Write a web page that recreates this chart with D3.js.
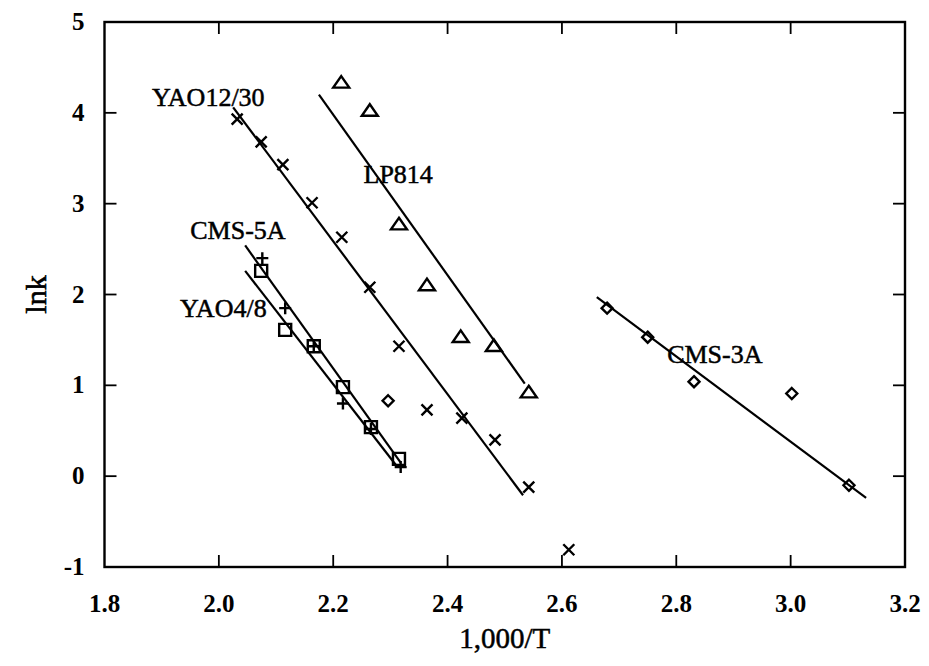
<!DOCTYPE html>
<html>
<head>
<meta charset="utf-8">
<script src="https://cdn.jsdelivr.net/npm/d3@7"></script>
<style>
  html, body { margin: 0; padding: 0; background: #fff; }
  svg text { font-family: "Liberation Serif", "DejaVu Serif", serif; fill: #000; }
</style>
</head>
<body>
<div id="chart"></div>
<script>
// Arrhenius plot: ln k vs 1,000/T

// YAO12/30 (x markers)
const yao1230X = [2.032, 2.074, 2.112, 2.163, 2.215, 2.264, 2.315, 2.364, 2.425, 2.483, 2.542, 2.612];
const yao1230Y = [3.93, 3.68, 3.43, 3.01, 2.63, 2.08, 1.43, 0.73, 0.64, 0.40, -0.12, -0.81];
const yao1230Fit = [[2.025, 4.06], [2.532, -0.21]];

// LP814 (triangles)
const lp814X = [2.214, 2.264, 2.315, 2.364, 2.423, 2.481, 2.542];
const lp814Y = [4.33, 4.02, 2.77, 2.10, 1.53, 1.43, 0.92];
const lp814Fit = [[2.175, 4.20], [2.535, 1.02]];

// CMS-5A (squares)
const cms5aX = [2.074, 2.116, 2.166, 2.217, 2.266, 2.315];
const cms5aY = [2.26, 1.61, 1.43, 0.98, 0.54, 0.19];
const cms5aFit = [[2.046, 2.54], [2.318, 0.15]];

// YAO4/8 (plus markers)
const yao48X = [2.076, 2.116, 2.166, 2.217, 2.266, 2.318];
const yao48Y = [2.40, 1.85, 1.43, 0.80, 0.52, 0.10];
const yao48Fit = [[2.046, 2.26], [2.310, 0.12]];

// CMS-3A (diamonds), plus one stray diamond near 2.3
const cms3aX = [2.296, 2.679, 2.750, 2.831, 3.002, 3.102];
const cms3aY = [0.83, 1.85, 1.53, 1.04, 0.91, -0.10];
const cms3aFit = [[2.661, 1.97], [3.132, -0.24]];

// curve labels: [text, x, y (baseline)]
const curveLabels = [
  ['YAO12/30', 1.883, 4.08],
  ['LP814', 2.253, 3.23],
  ['CMS-5A', 1.950, 2.61],
  ['YAO4/8', 1.932, 1.75],
  ['CMS-3A', 2.784, 1.25]
];

const xTicks = [1.8, 2.0, 2.2, 2.4, 2.6, 2.8, 3.0, 3.2];
const yTicks = [-1, 0, 1, 2, 3, 4, 5];

const width = 929;
const height = 666;
const margin = { top: 22, right: 24, bottom: 99, left: 104.5 };

const svg = d3.select('#chart')
  .append('svg')
  .attr('width', width)
  .attr('height', height);

const x = d3.scaleLinear().domain([1.8, 3.2]).range([margin.left, width - margin.right]);
const y = d3.scaleLinear().domain([-1, 5]).range([height - margin.bottom, margin.top]);

// frame
svg.append('rect')
  .attr('x', x(1.8)).attr('y', y(5))
  .attr('width', x(3.2) - x(1.8)).attr('height', y(-1) - y(5))
  .attr('fill', 'none')
  .attr('stroke', '#000')
  .attr('stroke-width', 2.4);

// inward ticks on all four sides
const tickLen = 12;
const ticks = svg.append('g').attr('stroke', '#000').attr('stroke-width', 1.8);
xTicks.slice(1, -1).forEach(t => {
  ticks.append('line').attr('x1', x(t)).attr('x2', x(t)).attr('y1', y(-1)).attr('y2', y(-1) - tickLen);
  ticks.append('line').attr('x1', x(t)).attr('x2', x(t)).attr('y1', y(5)).attr('y2', y(5) + tickLen);
});
yTicks.slice(1, -1).forEach(t => {
  ticks.append('line').attr('x1', x(1.8)).attr('x2', x(1.8) + tickLen).attr('y1', y(t)).attr('y2', y(t));
  ticks.append('line').attr('x1', x(3.2)).attr('x2', x(3.2) - tickLen).attr('y1', y(t)).attr('y2', y(t));
});

// tick labels
svg.append('g').selectAll('text')
  .data(xTicks)
  .enter().append('text')
  .attr('x', d => x(d))
  .attr('y', y(-1) + 45)
  .attr('text-anchor', 'middle')
  .attr('font-size', 25)
  .attr('font-weight', 'bold')
  .text(d => d.toFixed(1));

svg.append('g').selectAll('text')
  .data(yTicks)
  .enter().append('text')
  .attr('x', x(1.8) - 20)
  .attr('y', d => y(d) + 8)
  .attr('text-anchor', 'end')
  .attr('font-size', 25)
  .attr('font-weight', 'bold')
  .text(d => d);

// axis titles
svg.append('text')
  .attr('x', (x(1.8) + x(3.2)) / 2)
  .attr('y', 648)
  .attr('text-anchor', 'middle')
  .attr('font-size', 29)
  .attr('stroke', '#000')
  .attr('stroke-width', 0.5)
  .text('1,000/T');

svg.append('text')
  .attr('transform', `translate(46, ${y(2)}) rotate(-90)`)
  .attr('text-anchor', 'middle')
  .attr('font-size', 30)
  .attr('stroke', '#000')
  .attr('stroke-width', 0.6)
  .text('lnk');

// fit lines
const fits = [yao1230Fit, lp814Fit, cms5aFit, yao48Fit, cms3aFit];
svg.append('g').selectAll('line')
  .data(fits)
  .enter().append('line')
  .attr('x1', d => x(d[0][0])).attr('y1', d => y(d[0][1]))
  .attr('x2', d => x(d[1][0])).attr('y2', d => y(d[1][1]))
  .attr('stroke', '#000')
  .attr('stroke-width', 2.2);

// marker shapes
const shapes = {
  times: s => `M${-s},${-s}L${s},${s}M${-s},${s}L${s},${-s}`,
  plus: s => `M${-s},0L${s},0M0,${-s}L0,${s}`,
  square: s => `M${-s},${-s}H${s}V${s}H${-s}Z`,
  triangle: s => `M0,${-s * 0.85}L${s},${s * 0.6}H${-s}Z`,
  diamond: s => `M0,${-s}L${s},0L0,${s}L${-s},0Z`
};

function drawSeries(xs, ys, shape, size) {
  svg.append('g').selectAll('path')
    .data(xs.map((v, i) => [v, ys[i]]))
    .enter().append('path')
    .attr('transform', d => `translate(${x(d[0])},${y(d[1])})`)
    .attr('d', shapes[shape](size))
    .attr('fill', 'none')
    .attr('stroke', '#000')
    .attr('stroke-width', 2.4);
}

drawSeries(yao1230X, yao1230Y, 'times', 5.5);
drawSeries(lp814X, lp814Y, 'triangle', 8);
drawSeries(cms5aX, cms5aY, 'square', 6);
drawSeries(yao48X, yao48Y, 'plus', 6);
drawSeries(cms3aX, cms3aY, 'diamond', 5.5);

// curve labels
svg.append('g').selectAll('text')
  .data(curveLabels)
  .enter().append('text')
  .attr('x', d => x(d[1]))
  .attr('y', d => y(d[2]))
  .attr('font-size', 26)
  .attr('stroke', '#000')
  .attr('stroke-width', 0.5)
  .text(d => d[0]);
</script>
</body>
</html>
